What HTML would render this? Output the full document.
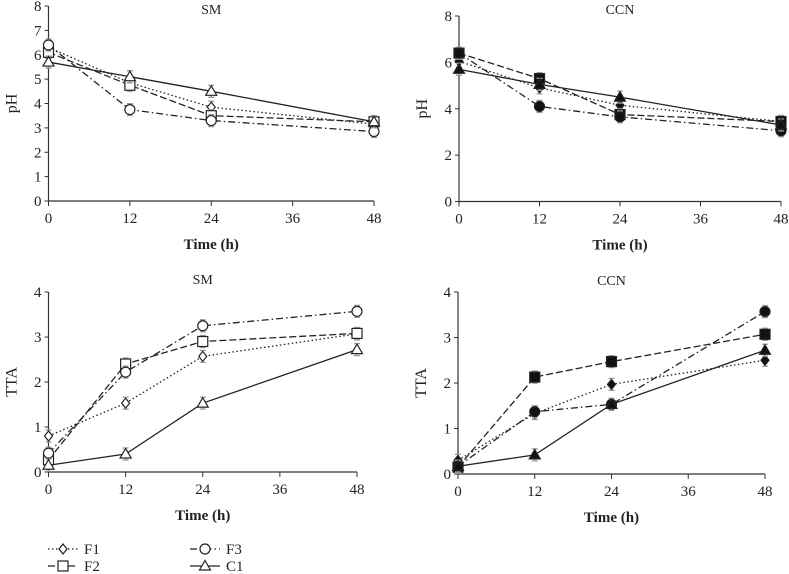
<!DOCTYPE html>
<html><head><meta charset="utf-8"><style>
body{margin:0;background:#fff;}
svg{display:block;font-family:"Liberation Serif",serif;}
</style></head><body>
<svg id="c" width="789" height="574" viewBox="0 0 789 574"></svg>
<script>
const times=[0,12,24,48];
const seriesNames=["F1","F2","F3","C1"];
const smPH_F1=[6.3,4.85,3.85,3.15];
const smPH_F2=[6.1,4.75,3.5,3.25];
const smPH_F3=[6.4,3.75,3.3,2.85];
const smPH_C1=[5.7,5.1,4.5,3.25];
const ccnPH_F1=[6.05,4.9,4.15,3.45];
const ccnPH_F2=[6.4,5.3,3.75,3.45];
const ccnPH_F3=[6.4,4.1,3.65,3.05];
const ccnPH_C1=[5.7,5.05,4.5,3.3];
const smTTA_F1=[0.8,1.53,2.57,3.07];
const smTTA_F2=[0.27,2.4,2.9,3.08];
const smTTA_F3=[0.42,2.22,3.25,3.57];
const smTTA_C1=[0.15,0.4,1.53,2.72];
const ccnTTA_F1=[0.3,1.33,1.97,2.5];
const ccnTTA_F2=[0.15,2.13,2.47,3.07];
const ccnTTA_F3=[0.17,1.37,1.53,3.57];
const ccnTTA_C1=[0.17,0.42,1.53,2.72];
const xTicks=[0,12,24,36,48];
const yTicksSMpH=[0,1,2,3,4,5,6,7,8];
const yTicksCCNpH=[0,2,4,6,8];
const yTicksTTA=[0,1,2,3,4];

const NS="http://www.w3.org/2000/svg";
const svg=document.getElementById('c');
function mk(t,a,p){const e=document.createElementNS(NS,t);for(const k in a)e.setAttribute(k,a[k]);(p||svg).appendChild(e);return e;}
const dashes={F1:"1.5,2.5",F2:"7,3",F3:"7,3,1.5,3",C1:""};

function marker(g,name,x,y,filled){
  const f=filled?"#111":"#fff";const s="#222";let e;
  if(name==="F1")e=mk('path',{d:`M${x} ${y-5}L${x+4} ${y}L${x} ${y+5}L${x-4} ${y}Z`,fill:f,stroke:s,'stroke-width':1.2},g);
  else if(name==="F2")e=mk('rect',{x:x-5,y:y-5,width:10,height:10,fill:f,stroke:s,'stroke-width':1.2},g);
  else if(name==="F3")e=mk('circle',{cx:x,cy:y,r:5,fill:f,stroke:s,'stroke-width':1.2},g);
  else e=mk('path',{d:`M${x} ${y-5.5}L${x+5.5} ${y+4}L${x-5.5} ${y+4}Z`,fill:f,stroke:s,'stroke-width':1.2},g);
  return e;
}

function chart(cfg){
  const g=mk('g',{});
  
  
  const {x0,x1,yTop,yBot,ymax}=cfg;
  const sx=v=>x0+(x1-x0)*v/48, sy=v=>yBot-(yBot-yTop)*v/ymax;
  const ax=mk('path',{d:`M${x0} ${yTop}V${yBot}H${x1}`,fill:'none',stroke:'#333','stroke-width':1.2},g);
  
  cfg.yt.forEach(v=>{
    mk('line',{x1:x0-4,x2:x0,y1:sy(v),y2:sy(v),stroke:'#333'},g);
    const t=mk('text',{x:x0-7,y:sy(v)+5,'text-anchor':'end','font-size':15,fill:'#222'},g);t.textContent=v;
    
  });
  xTicks.forEach(v=>{
    mk('line',{x1:sx(v),x2:sx(v),y1:yBot,y2:yBot+5,stroke:'#333'},g);
    const t=mk('text',{x:sx(v),y:yBot+22,'text-anchor':'middle','font-size':15,fill:'#222'},g);t.textContent=v;
    
  });
  const tt=mk('text',{x:(x0+x1)/2,y:cfg.titleY,'text-anchor':'middle','font-size':14,fill:'#222'},g);tt.textContent=cfg.title;
  
  const xl=mk('text',{x:(x0+x1)/2,y:yBot+48,'text-anchor':'middle','font-size':15,'font-weight':'bold',fill:'#222'},g);xl.textContent="Time (h)";
  
  const yl=mk('text',{x:0,y:0,'text-anchor':'middle','font-size':16,fill:'#222',transform:`translate(${x0-32},${(yTop+yBot)/2}) rotate(-90)`},g);yl.textContent=cfg.ylab;
  
  cfg.data.forEach((arr,i)=>{
    const n=seriesNames[i];
    const pts=arr.map((v,j)=>[sx(times[j]),sy(v)]);
    const l=mk('polyline',{points:pts.map(p=>p.join(',')).join(' '),fill:'none',stroke:'#222','stroke-width':1.3,'stroke-dasharray':dashes[n]},g);
    
    pts.forEach(p=>{
      mk('path',{d:`M${p[0]} ${p[1]-6}V${p[1]+6}M${p[0]-3} ${p[1]-6}H${p[0]+3}M${p[0]-3} ${p[1]+6}H${p[0]+3}`,stroke:'#999','stroke-width':1.3,fill:'none'},g);
    });
    pts.forEach(p=>{const m=marker(g,n,p[0],p[1],cfg.filled);
      });
  });
}
chart({name:'sm-ph-chart',title:'SM',titleY:14,ylab:'pH',x0:48.5,x1:374,yTop:6,yBot:201,ymax:8,yt:yTicksSMpH,filled:false,data:[smPH_F1,smPH_F2,smPH_F3,smPH_C1]});
chart({name:'ccn-ph-chart',title:'CCN',titleY:14,ylab:'pH',x0:459,x1:781,yTop:16,yBot:201.5,ymax:8,yt:yTicksCCNpH,filled:true,data:[ccnPH_F1,ccnPH_F2,ccnPH_F3,ccnPH_C1]});
chart({name:'sm-tta-chart',title:'SM',titleY:284,ylab:'TTA',x0:48.5,x1:357,yTop:292,yBot:472,ymax:4,yt:yTicksTTA,filled:false,data:[smTTA_F1,smTTA_F2,smTTA_F3,smTTA_C1]});
chart({name:'ccn-tta-chart',title:'CCN',titleY:285,ylab:'TTA',x0:458,x1:765,yTop:292,yBot:474,ymax:4,yt:yTicksTTA,filled:true,data:[ccnTTA_F1,ccnTTA_F2,ccnTTA_F3,ccnTTA_C1]});

// legend
const lg=mk('g',{});

const legPos=[[48,549],[48,566],[190,549],[190,566]];
seriesNames.forEach((n,i)=>{
  const [x,y]=legPos[i];
  const e=mk('g',{},lg);
  
  mk('line',{x1:x,x2:x+30,y1:y,y2:y,stroke:'#222','stroke-width':1.3,'stroke-dasharray':dashes[n]},e);
  marker(e,n,x+15,y,false);
  const t=mk('text',{x:x+36,y:y+5,'font-size':15,fill:'#222'},e);t.textContent=n;
});
</script>
</body></html>
